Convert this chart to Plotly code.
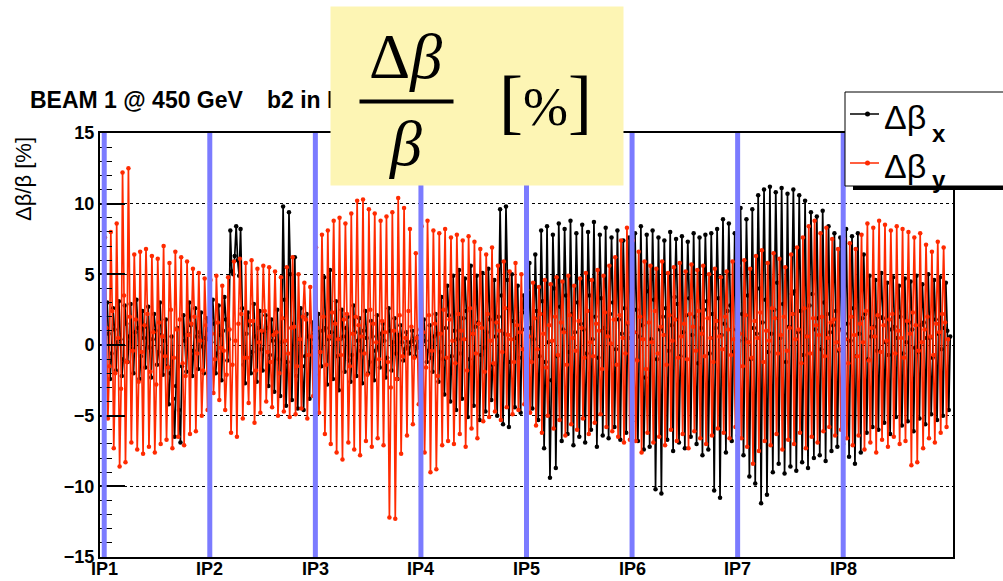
import plotly.graph_objects as go

# ---------------- data ----------------
ip_labels = ["IP1", "IP2", "IP3", "IP4", "IP5", "IP6", "IP7", "IP8"]
ip_positions = [0, 1, 2, 3, 4, 5, 6, 7]
y_ticks = [-15, -10, -5, 0, 5, 10, 15]

# horizontal beta-beat Δβx/βx [%], one list per arc (IPn -> IPn+1)
dbx_arc1 = [3.0, 0.8, -2.4, -0.6, 2.6, 1.1, -1.8, 0.2, 3.1, 0.4, -2.2, -1.0, 2.8, 1.5, -1.2, 0.6,
            2.9, -0.3, -2.0, 0.9, 3.2, 1.2, -2.4, -0.8, 2.4, 0.5, -1.6, 1.3, 2.7, -0.2, -2.3, 0.4,
            2.2, 1.0, -1.4, -0.5, 3.0, 0.7, -2.1, 0.3, 1.8, -1.5, -4.2, -2.0, 0.6, -3.8, -6.5, -2.9,
            1.2, -4.6, -6.9, -1.5, 2.1, 0.3, -1.9, 0.8, 3.0, 1.4, -2.2, -0.4, 2.6, 0.6, -1.7, 0.9,
            2.3, -0.1, -2.0, 0.5, 1.9, 0.4, -1.1, 0.2]
dbx_arc2 = [3.2, 1.5, -2.0, -0.6, 2.8, 0.7, -2.5, 1.0, 3.4, 1.8, -1.1, 0.4, 8.1, 5.2, 5.0, 6.3,
            8.4, 6.0, 4.9, 8.2, 2.6, -1.4, -2.7, 0.8, 2.3, 1.4, -2.0, -0.5, 2.9, 0.6, -2.6, 1.2,
            2.4, -0.3, -1.8, 0.9, 2.1, 1.2, -2.9, -0.7, 1.8, 0.3, -3.3, 0.9, 2.5, -1.0, -3.6, 0.2,
            9.8, 3.2, -4.3, -1.2, 9.4, 5.0, -3.9, 1.5, 6.2, -2.2, -4.5, 0.4, 2.6, -1.5, -4.6, -0.8,
            2.2, 0.6, -3.8, 0.4, 1.6, -0.2, -2.1, 0.5]
dbx_arc3 = [2.2, -0.5, -1.5, 1.0, 4.8, 1.2, -2.8, 0.4, 5.3, 0.9, -2.4, 1.6, 3.1, -0.8, -3.2, 0.4,
            2.5, 0.6, -1.9, 1.2, 2.0, -1.1, -2.6, -0.7, 2.8, 0.9, -2.2, 0.3, 1.9, -0.4, -2.7, 1.0,
            2.4, 0.5, -2.0, -1.2, 1.7, 0.6, -2.5, -0.4, 2.1, -0.2, -1.6, 0.8, 1.5, 0.3, -2.3, -0.9,
            2.6, 1.0, -1.8, 0.2, 1.9, -0.6, -2.4, 0.7, 1.4, 0.2, -1.1, -0.3, 0.9, -0.2, -0.6, 0.2,
            1.0, 0.3, -0.8, -0.1, 0.6, -0.2, -0.5, 0.2]
dbx_arc4 = [1.8, 0.3, -1.2, -0.4, 1.4, -0.9, -1.9, 0.6, 2.2, 0.8, -2.6, -0.5, 3.4, -1.0, -3.5, 1.2,
            4.2, 2.1, -4.0, -0.8, 4.9, 1.0, -4.6, 0.4, 5.3, -0.6, -3.8, 1.9, 4.7, 2.4, -5.1, -1.0,
            5.6, 0.8, -4.3, 1.3, 4.9, 1.6, -5.3, -0.7, 5.1, -0.2, -4.7, 0.9, 5.4, 1.8, -3.9, -1.4,
            4.6, 0.6, -5.0, 2.0, 9.6, 3.5, -5.6, 0.8, 9.8, 4.6, -5.8, -1.2, 5.0, 1.7, -4.4, 0.5,
            4.2, -0.9, -4.8, 2.3, 3.5, 1.1, -3.0, -1.0]
dbx_arc5 = [5.8, 1.2, -4.5, 0.4, 6.4, 2.4, -5.3, -0.8, 8.1, 3.1, -7.3, -1.2, 8.4, 0.2, -9.4, -2.5,
            7.8, 4.0, -8.7, -0.8, 8.6, 2.7, -6.8, 1.1, 8.2, 3.5, -6.3, -0.5, 8.8, 2.2, -7.1, 0.9,
            7.9, 3.0, -6.5, 1.5, 8.5, 1.1, -6.9, -0.6, 8.0, 3.5, -6.0, 0.4, 8.7, 2.0, -7.2, -0.9,
            7.8, 3.3, -6.4, 1.2, 8.3, 0.9, -6.6, 2.2, 7.6, 3.0, -5.8, -0.3, 8.1, 1.8, -6.7, 0.8,
            7.4, 2.6, -6.2, 1.5, 7.6, 0.5, -5.4, -1.0]
dbx_arc6 = [7.9, 2.5, -6.8, 0.6, 8.4, 1.4, -7.4, -2.3, 7.8, 3.8, -7.2, 0.4, 8.1, 3.2, -10.2, -1.0,
            7.6, 1.1, -10.5, 2.0, 7.4, 2.6, -6.7, -0.4, 8.0, 1.4, -7.5, 3.4, 7.5, 2.9, -6.9, -0.8,
            7.7, 0.9, -7.3, 2.1, 7.3, 3.3, -6.5, 0.7, 7.9, 2.0, -7.0, -1.3, 7.6, 1.2, -7.8, 2.5,
            7.8, 3.1, -7.4, -0.6, 7.9, 2.2, -10.3, 1.2, 8.2, 3.3, -10.8, 0.7, 8.9, 1.5, -7.6, 2.4,
            8.6, 2.8, -6.8, -0.5, 7.9, 1.1, -6.4, 0.3]
dbx_arc7 = [9.7, 2.2, -7.8, 0.4, 8.9, 3.5, -9.3, -1.0, 9.6, 1.2, -9.8, 0.8, 10.6, 4.0, -11.2, 1.6,
            11.0, 3.2, -10.6, -0.5, 11.2, 0.8, -9.0, 2.5, 10.8, 4.4, -8.4, 0.5, 11.1, 2.9, -9.1, -1.2,
            10.7, 1.3, -8.6, 3.6, 11.0, 3.8, -8.9, 0.9, 10.6, 2.4, -8.3, -0.7, 10.2, 0.6, -8.7, 2.8,
            9.4, 3.6, -8.0, 1.1, 9.1, 1.9, -7.8, -0.3, 9.5, 3.0, -8.2, 2.2, 8.4, 0.9, -7.5, 1.4,
            7.9, 2.4, -7.2, -0.4, 7.6, 1.1, -7.0, 0.8]
dbx_arc8 = [8.2, 1.5, -7.9, 0.3, 7.7, 2.6, -8.4, -0.8, 7.9, 0.8, -7.6, 1.9, 6.4, 2.2, -6.2, -1.0,
            4.9, 0.6, -5.8, 1.3, 4.6, -0.4, -6.0, 2.0, 5.1, 1.9, -5.5, 0.2, 4.4, -0.7, -6.3, 1.1,
            4.8, 1.3, -5.1, 0.5, 4.2, 2.0, -5.7, -0.6, 4.7, 0.2, -5.4, 1.6, 4.5, 1.1, -6.1, -0.2,
            4.9, -0.5, -5.2, 1.4, 4.3, 1.6, -5.6, 0.5, 5.0, 0.5, -4.9, -0.9, 4.6, 1.8, -5.3, 0.8,
            4.8, -0.3, -5.0, 1.2, 4.4, 1.0, -4.6, 0.6]

# vertical beta-beat Δβy/βy [%]
dby_arc1 = [7.6, 1.2, -5.2, -1.5, 8.0, 2.4, -7.3, -2.0, 8.6, 0.5, -8.6, -3.1, 12.2, 3.5, -8.3, -1.2,
            12.5, 2.0, -6.9, -0.4, 6.4, 1.8, -7.4, -2.6, 6.6, -0.5, -7.7, 1.4, 6.8, 2.2, -7.2, -1.9,
            6.3, 0.9, -7.6, -2.8, 6.1, 1.6, -7.0, 0.6, 7.0, -0.8, -6.7, -1.6, 5.8, 2.5, -7.3, -0.9,
            6.6, 1.1, -6.5, 1.8, 6.2, -1.3, -7.1, -2.2, 5.9, 0.7, -6.3, 1.5, 5.4, 2.0, -6.1, -0.6,
            5.1, 0.3, -5.0, -1.8, 4.7, 1.4, -4.6, 0.8]
dby_arc2 = [4.6, 0.8, -3.4, -1.0, 4.9, 1.6, -3.9, -0.2, 4.2, -0.4, -4.6, -2.1, 4.8, 1.1, -6.2, -1.4,
            5.9, 0.3, -6.5, 1.5, 6.1, 2.2, -5.2, -0.9, 5.8, -0.9, -4.1, 1.7, 6.0, 1.7, -5.5, -1.8,
            5.4, 0.2, -4.8, 1.0, 5.6, 2.4, -4.0, -0.5, 5.5, -1.2, -4.4, 0.7, 5.2, 0.9, -5.0, -2.0,
            4.8, 1.9, -4.7, 0.3, 5.5, -0.6, -5.1, 1.2, 6.2, 1.3, -4.9, -1.5, 5.0, 0.4, -4.5, 2.0,
            4.4, 1.8, -5.2, -0.7, 4.1, 0.6, -3.6, 0.9]
dby_arc3 = [6.9, 1.2, -4.8, -0.5, 7.8, 2.0, -6.3, -1.4, 8.1, 0.6, -7.0, 2.3, 8.8, 1.5, -7.6, 0.4,
            9.0, -0.7, -8.1, 1.8, 8.6, 2.2, -6.9, -1.5, 9.3, 0.8, -7.4, 2.0, 10.2, 1.4, -7.8, 0.6,
            10.3, -0.6, -6.8, -2.1, 9.6, 2.5, -7.2, 1.5, 9.3, 0.2, -6.6, -1.0, 8.8, 1.7, -7.1, 0.9,
            9.1, -1.2, -12.2, -3.0, 9.4, 1.0, -12.3, -2.4, 10.4, 2.1, -7.7, -0.8, 9.7, 0.5, -6.4, 2.4,
            8.2, 1.3, -5.6, -0.9, 6.5, 0.5, -4.2, 1.1]
dby_arc4 = [8.4, 0.9, -7.6, -1.6, 8.8, 2.1, -9.0, -0.4, 8.1, 1.5, -8.8, -2.2, 7.9, 0.8, -7.1, 2.5,
            8.2, -0.9, -6.8, 1.8, 7.6, 0.3, -7.0, -1.3, 7.8, 2.2, -6.3, 1.0, 7.4, 0.4, -7.2, -1.8,
            7.7, 2.6, -5.9, 0.8, 7.3, -0.6, -6.6, 1.5, 6.8, 1.2, -5.4, -1.9, 6.4, 2.2, -5.1, 0.3,
            6.9, -1.3, -4.7, 1.6, 5.6, 1.0, -5.3, -0.5, 5.9, 2.6, -4.4, 0.7, 5.2, 0.4, -4.9, -1.2,
            5.8, 1.4, -4.6, 0.9, 5.0, -0.3, -4.2, 1.1]
dby_arc5 = [3.9, 0.6, -4.8, -1.2, 4.4, 1.9, -5.7, -0.3, 4.1, 2.2, -6.2, 0.8, 4.6, -1.6, -5.0, 1.4,
            4.3, 0.3, -5.9, 2.0, 4.8, -0.7, -5.3, 1.6, 4.5, 0.9, -6.4, -1.4, 4.9, 2.1, -5.6, 0.5,
            4.2, -0.4, -6.0, 1.7, 4.7, 1.2, -5.2, -0.9, 5.1, 2.4, -6.3, 0.2, 4.6, -0.8, -5.5, 1.5,
            5.3, 1.0, -4.9, -1.7, 4.9, 2.3, -5.8, 0.6, 5.6, 0.1, -6.1, 1.8, 6.2, -1.4, -6.5, 2.1,
            7.4, 0.5, -6.9, -0.6, 8.3, 1.6, -6.7, 0.9]
dby_arc6 = [7.4, 0.9, -6.8, -1.1, 6.6, 2.0, -7.6, 0.4, 5.9, -1.7, -6.2, 1.6, 5.6, 0.2, -6.9, 2.4,
            5.4, -0.6, -6.5, 1.3, 5.9, 0.7, -7.1, -1.4, 5.1, 2.1, -6.0, 0.3, 5.5, 1.8, -6.8, -0.9,
            5.8, 0.6, -6.3, 1.5, 5.2, -1.0, -7.3, 2.2, 5.7, 1.3, -6.1, -0.4, 5.3, 2.4, -6.6, 0.8,
            5.6, -0.8, -7.0, 1.9, 5.0, 0.5, -6.4, -1.2, 5.4, 1.7, -5.9, 0.6, 4.8, -0.3, -6.2, 2.0,
            5.2, 1.1, -6.6, -0.7, 5.9, 0.4, -5.8, 1.3]
dby_arc7 = [5.6, 0.8, -6.6, -1.5, 6.0, 2.1, -7.2, 0.2, 5.4, -0.9, -8.4, 1.7, 6.3, 0.5, -7.5, 2.3,
            6.7, -1.2, -6.8, 1.0, 5.8, 0.3, -7.1, 2.6, 6.5, 1.9, -6.3, -0.6, 6.1, 0.7, -7.4, 2.0,
            5.5, -0.4, -6.7, 1.2, 6.4, 2.2, -7.0, 0.4, 6.9, 1.1, -6.2, -1.3, 7.6, 2.6, -7.3, 0.6,
            8.4, -0.6, -6.5, 1.9, 8.8, 1.4, -6.9, 0.7, 7.9, 2.0, -6.1, -0.8, 8.3, 0.5, -5.8, 1.6,
            7.5, 1.8, -6.4, 0.2, 6.8, -0.3, -6.0, 1.0]
dby_arc8 = [7.5, 0.4, -6.6, -1.3, 7.2, 2.0, -7.1, 0.7, 6.8, -0.8, -6.4, 1.5, 7.8, 0.2, -7.4, 2.4,
            8.6, -1.1, -6.9, 1.2, 8.3, 0.6, -7.6, 2.1, 8.8, -0.5, -6.7, 1.4, 8.5, 0.3, -7.2, 1.8,
            8.1, 2.2, -6.5, -0.6, 8.4, 1.0, -7.0, 0.5, 8.2, -0.9, -6.8, 1.7, 8.0, 0.8, -8.5, 2.3,
            7.6, 1.4, -8.3, -0.4, 7.9, 0.2, -7.3, 1.1, 7.1, 2.0, -6.6, 0.6, 6.6, -0.7, -6.9, 1.5,
            7.3, 0.9, -6.2, 2.2, 6.9, 1.6, -5.8, 0.4]

dbx_arcs = [dbx_arc1, dbx_arc2, dbx_arc3, dbx_arc4, dbx_arc5, dbx_arc6, dbx_arc7, dbx_arc8]
dby_arcs = [dby_arc1, dby_arc2, dby_arc3, dby_arc4, dby_arc5, dby_arc6, dby_arc7, dby_arc8]

# ---------------- layout helpers ----------------
W, H = 1003, 581
L, R, T, B = 100, 50, 133, 24
PW, PH = W - L - R, H - T - B


def px(x):
    return (x - L) / PW


def py(y):
    return (H - B - y) / PH


def ring(arcs, offset):
    # offset: where (in sample steps) the first monitor of each arc sits after the IP
    xs, ys = [], []
    for i, vals in enumerate(arcs):
        n = len(vals)
        for k, v in enumerate(vals):
            xs.append(ip_positions[i] + (k + offset) / n)
            ys.append(v)
    return xs, ys


SANS = "Liberation Sans, Arial, Helvetica, sans-serif"
SERIF = "Liberation Serif, Times New Roman, serif"
RED = "#ff2a00"
BLUE = "#7b7bff"

fig = go.Figure()
bx, by = ring(dbx_arcs, 2.0)
rx, ry = ring(dby_arcs, 0.5)
fig.add_trace(go.Scatter(x=bx, y=by, mode="lines+markers", name="Δβx",
                         line=dict(color="black", width=1.7),
                         marker=dict(color="black", size=4.5)))
fig.add_trace(go.Scatter(x=rx, y=ry, mode="lines+markers", name="Δβy",
                         line=dict(color=RED, width=1.7),
                         marker=dict(color=RED, size=4.5)))

shapes = []
for ip in ip_positions:
    shapes.append(dict(type="line", xref="x", yref="y", x0=ip, x1=ip, y0=-15, y1=15,
                       line=dict(color=BLUE, width=5), layer="above"))
# legend box + shadow
shapes.append(dict(type="rect", xref="paper", yref="paper", x0=px(853), x1=px(1012),
                   y0=py(190), y1=py(185), fillcolor="black", line=dict(width=0), layer="above"))
shapes.append(dict(type="rect", xref="paper", yref="paper", x0=px(845), x1=px(1012),
                   y0=py(186), y1=py(92), fillcolor="white", line=dict(color="black", width=1),
                   layer="above"))
for yy, col in [(114, "black"), (163, RED)]:
    shapes.append(dict(type="line", xref="paper", yref="paper", x0=px(850), x1=px(879),
                       y0=py(yy), y1=py(yy), line=dict(color=col, width=1.5), layer="above"))
    shapes.append(dict(type="circle", xref="paper", yref="paper", x0=px(865), x1=px(870),
                       y0=py(yy + 2.5), y1=py(yy - 2.5), fillcolor=col, line=dict(width=0),
                       layer="above"))

annotations = [
    dict(text="<b>BEAM 1 @ 450 GeV</b>", x=px(28), y=py(100), xref="paper", yref="paper",
         xanchor="left", yanchor="middle", showarrow=False, font=dict(family=SANS, size=23, color="black")),
    dict(text="<b>b2 in MB</b>", x=px(265), y=py(100), xref="paper", yref="paper",
         xanchor="left", yanchor="middle", showarrow=False, font=dict(family=SANS, size=23, color="black")),
    dict(text="Δβ/β [%]", x=px(23), y=py(179), xref="paper", yref="paper", textangle=-90,
         xanchor="center", yanchor="middle", showarrow=False, font=dict(family=SANS, size=22, color="black")),
    # yellow label box
    dict(text=" ", x=px(330), y=py(6), xref="paper", yref="paper", xanchor="left", yanchor="top",
         width=292, height=178, bgcolor="#fdf5b4", borderpad=0, showarrow=False,
         font=dict(size=2)),
    dict(text="Δ<i>β</i>", x=px(405), y=py(56), xref="paper", yref="paper",
         xanchor="center", yanchor="middle", showarrow=False, font=dict(family=SERIF, size=64, color="black")),
    dict(text=" ", x=px(359), y=py(101), xref="paper", yref="paper", xanchor="left", yanchor="middle",
         width=93, height=3, bgcolor="black", borderpad=0, showarrow=False, font=dict(size=1)),
    dict(text="<i>β</i>", x=px(405), y=py(143), xref="paper", yref="paper",
         xanchor="center", yanchor="middle", showarrow=False, font=dict(family=SERIF, size=64, color="black")),
    dict(text="[<span style='font-size:54px'>%</span>]", x=px(545), y=py(101), xref="paper", yref="paper",
         xanchor="center", yanchor="middle", showarrow=False, font=dict(family=SERIF, size=72, color="black")),
    # legend texts
    dict(text="Δβ", x=px(882), y=py(117), xref="paper", yref="paper", xanchor="left", yanchor="middle",
         showarrow=False, font=dict(family=SANS, size=34, color="black")),
    dict(text="<b>x</b>", x=px(930), y=py(133), xref="paper", yref="paper", xanchor="left", yanchor="middle",
         showarrow=False, font=dict(family=SANS, size=24, color="black")),
    dict(text="Δβ", x=px(882), y=py(166), xref="paper", yref="paper", xanchor="left", yanchor="middle",
         showarrow=False, font=dict(family=SANS, size=34, color="black")),
    dict(text="<b>y</b>", x=px(930), y=py(180), xref="paper", yref="paper", xanchor="left", yanchor="middle",
         showarrow=False, font=dict(family=SANS, size=24, color="black")),
]
# IP labels below the axis
for ip, lab in zip(ip_positions, ip_labels):
    annotations.append(dict(text="<b>" + lab + "</b>", x=ip, y=py(569), xref="x", yref="paper",
                            xanchor="center", yanchor="middle", showarrow=False,
                            font=dict(family=SANS, size=18, color="black")))

fig.update_layout(
    width=W, height=H,
    margin=dict(l=L, r=R, t=T, b=B, pad=0),
    paper_bgcolor="white", plot_bgcolor="white",
    showlegend=False,
    shapes=shapes,
    annotations=annotations,
    xaxis=dict(range=[-0.04, 8.04], tickmode="array", tickvals=ip_positions, ticktext=ip_labels,
               showticklabels=False,
               ticks="", showgrid=False, zeroline=False, showline=True, linecolor="black",
               linewidth=2, mirror=True, automargin=False),
    yaxis=dict(range=[-15, 15], tickmode="array", tickvals=y_ticks, ticks="inside", ticklen=25,
               tickcolor="black", tickwidth=1.5, showgrid=True, gridcolor="black", griddash="dot",
               gridwidth=1, zeroline=False, showline=True, linecolor="black", linewidth=2,
               mirror=True, automargin=False,
               minor=dict(dtick=1, tick0=0, ticks="inside", ticklen=12, tickcolor="black",
                          tickwidth=1, showgrid=False),
               tickfont=dict(family=SANS, size=18, color="black", weight="bold")),
)

fig.write_html("out.html")
